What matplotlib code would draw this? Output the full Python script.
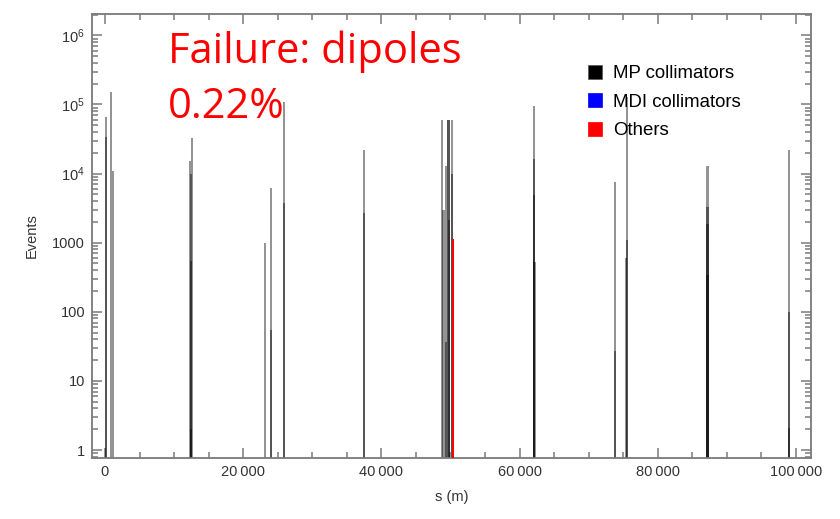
import numpy as np
import matplotlib
matplotlib.use("Agg")
import matplotlib.pyplot as plt
from matplotlib.patches import Patch
from matplotlib.ticker import FixedLocator, FixedFormatter, LogLocator, NullFormatter

plt.rcParams['font.family'] = ['Liberation Sans', 'DejaVu Sans']
plt.rcParams['mathtext.fontset'] = 'custom'
plt.rcParams['mathtext.rm'] = 'Liberation Sans'
plt.rcParams['mathtext.it'] = 'Liberation Sans'

# --- data: loss positions (m) and event counts, overlapping bins drawn translucent ---
mp_s = [150, 150, 900, 1200,
        12300, 12600, 12450, 12450, 12450,
        23200, 24000, 24050, 25850, 25850,
        37450, 37450,
        48800, 49000, 49300, 49400, 49700, 49700, 49800, 50200, 50250,
        62100, 62100, 62100, 62150,
        73800, 73800,
        75500, 75500, 75450,
        87200, 87200, 87200, 87200,
        99000, 99000, 99000]
mp_events = [6.6e4, 3.4e4, 1.5e5, 1.1e4,
             1.5e4, 3.3e4, 1.0e4, 550, 2,
             1000, 6200, 54, 1.1e5, 3700,
             2.2e4, 2700,
             6.0e4, 3000, 1.3e4, 37, 6.0e4, 6.0e4, 2100, 6.0e4, 1.0e4,
             9.5e4, 1.6e4, 4900, 520,
             7600, 27,
             1.3e5, 1100, 600,
             1.3e4, 3300, 1860, 340,
             2.2e4, 100, 2.1]
mdi_s = []
mdi_events = []
other_s = [50350]
other_events = [1150]

categories = ["MP collimators", "MDI collimators", "Others"]
cat_colors = ["black", "#0000ff", "#ff0000"]

xticks = [0, 20000, 40000, 60000, 80000, 100000]
xticklabels = ["0", "20\u2009000", "40\u2009000", "60\u2009000", "80\u2009000", "100\u2009000"]
yticks = [1, 10, 100, 1000, 1e4, 1e5, 1e6]
yticklabels = ["1", "10", "100", "1000", r"$10^4$", r"$10^5$", r"$10^6$"]

binw = 320

fig = plt.figure(figsize=(8.4, 5.19), dpi=100)
ax = fig.add_axes([92/840, 1-458/519, (811-92)/840, (458-14)/519])

ax.set_yscale('log')
ax.bar(mp_s, np.array(mp_events) - 0.1, width=binw, bottom=0.1, color='black', alpha=0.42,
       linewidth=0, zorder=2)
if mdi_s:
    ax.bar(mdi_s, np.array(mdi_events) - 0.1, width=binw, bottom=0.1, color=cat_colors[1],
           linewidth=0, zorder=3)
ax.bar(other_s, np.array(other_events) - 0.1, width=binw * 0.8, bottom=0.1, color=cat_colors[2],
       linewidth=0, zorder=3)

ax.set_xlim(-1880, 102170)
ax.set_ylim(0.766, 2.04e6)

ax.xaxis.set_major_locator(FixedLocator(xticks))
ax.xaxis.set_major_formatter(FixedFormatter(xticklabels))
ax.xaxis.set_minor_locator(FixedLocator(np.arange(-0, 102001, 5000)))
ax.yaxis.set_major_locator(FixedLocator(yticks))
ax.yaxis.set_major_formatter(FixedFormatter(yticklabels))
ax.yaxis.set_minor_locator(LogLocator(base=10, subs=np.arange(2, 10)))
ax.yaxis.set_minor_formatter(NullFormatter())

gray = '#7a7a7a'
for sp in ax.spines.values():
    sp.set_color(gray)
    sp.set_linewidth(1.3)
ax.tick_params(which='both', direction='in', top=True, right=True, color=gray,
               labelcolor='#333333', labelsize=10.5, width=1.1)
ax.tick_params(which='major', length=7, pad=5)
ax.tick_params(which='minor', length=4)

ax.set_xlabel("s (m)", fontsize=10.5, color='#333333', labelpad=8)
ax.set_ylabel("Events", fontsize=10.5, color='#333333', labelpad=10)

handles = [Patch(facecolor=c, edgecolor='#555555' if c == 'black' else c, linewidth=0.5)
           for c in cat_colors]
fig.legend(handles, categories, loc='upper left', bbox_to_anchor=(588/840, 1-65/519),
           frameon=False, fontsize=13.4, handlelength=0.75, handleheight=0.75,
           handletextpad=0.6, labelspacing=0.6, borderpad=0, borderaxespad=0)

fig.text(168/840, 1-63/519, "Failure: dipoles", color='#ff0000', fontsize=30,
         family=['Open Sans', 'DejaVu Sans'], va='baseline', ha='left')
fig.text(168/840, 1-118/519, "0.22%", color='#ff0000', fontsize=30,
         family=['Open Sans', 'DejaVu Sans'], va='baseline', ha='left')

fig.savefig("out.png", dpi=100)
